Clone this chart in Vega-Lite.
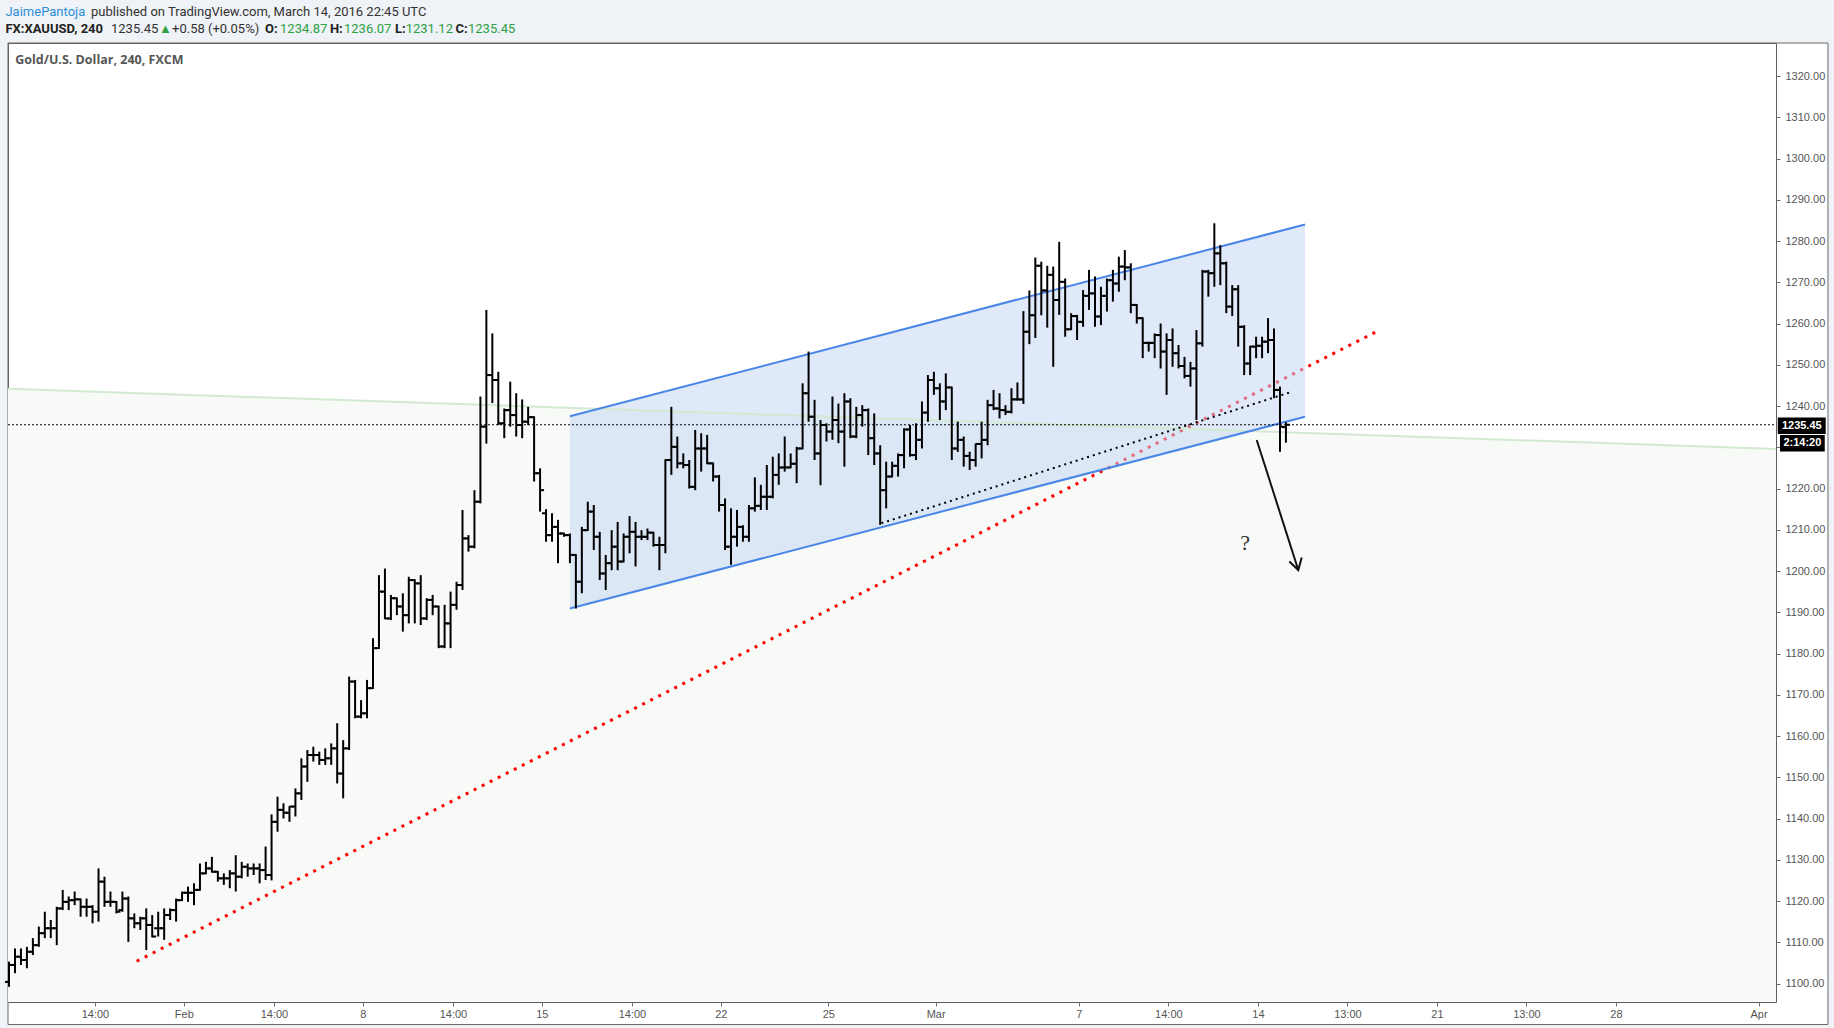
{
"$schema": "https://vega.github.io/schema/vega-lite/v6.json",
"width": 1768, "height": 959,
"autosize": {"type": "none"},
"padding": {"left": 8, "top": 43, "right": 58, "bottom": 26},
"background": "#ffffff",
"config": {"view": {"stroke": "#5e5e5e", "strokeWidth": 1, "fill": "#ffffff"}},
"datasets": {
"page": [{"i": -3, "i2": 308, "p": 1328.0, "p2": 1345}, {"i": -3, "i2": -0.17, "p": 1080, "p2": 1345}, {"i": 304.84, "i2": 308, "p": 1080, "p2": 1345}, {"i": -3, "i2": 308, "p": 1080, "p2": 1090.06}],
"panel": [{"i": -0.17, "i2": 304.84, "p": 1090.06, "p2": 1328.0}],
"green": [{"i": -0.17, "p": 1244.2}, {"i": 296.13, "p": 1229.6}],
"red": [{"i": 21.4, "p": 1105.4}, {"i": 229.0, "p": 1257.9}],
"channel": [{"i": 94.0, "p": 1190.9, "p2": 1237.5}, {"i": 217.2, "p": 1237.4, "p2": 1284.0}],
"chup": [{"i": 94.0, "p": 1237.5}, {"i": 217.2, "p": 1284.0}],
"black": [{"i": 146.2, "p": 1211.6}, {"i": 215.1, "p": 1243.5}],
"last": [{"i": -0.17, "p": 1235.45}, {"i": 296.13, "p": 1235.45}],
"shaft": [{"i": 209.1, "p": 1231.76}, {"i": 216.07, "p": 1200.24}],
"head": [{"i": 214.57, "p": 1202.3}, {"i": 216.07, "p": 1200.24}, {"i": 216.64, "p": 1203.3}],
"qmark": [{"i": 207.14, "p": 1206.7, "t": "?"}],
"title": [{"i": 1.04, "p": 1324.0, "t": "Gold/U.S. Dollar, 240, FXCM"}],
"hblue": [{"i": -0.6, "p": 1335.6, "t": "JaimePantoja"}],
"hdark": [{"i": 13.74, "p": 1335.6, "t": "published on TradingView.com, March 14, 2016 22:45 UTC"}, {"i": 17.09, "p": 1331.3, "t": "1235.45"}, {"i": 27.32, "p": 1331.3, "t": "+0.58 (+0.05%)"}],
"hbold": [{"i": -0.6, "p": 1331.3, "t": "FX:XAUUSD, 240"}, {"i": 42.9, "p": 1331.3, "t": "O:"}, {"i": 53.78, "p": 1331.3, "t": "H:"}, {"i": 64.69, "p": 1331.3, "t": "L:"}, {"i": 74.81, "p": 1331.3, "t": "C:"}],
"hgreen": [{"i": 25.14, "p": 1331.3, "t": "▲"}, {"i": 45.42, "p": 1331.3, "t": "1234.87"}, {"i": 56.14, "p": 1331.3, "t": "1236.07"}, {"i": 66.48, "p": 1331.3, "t": "1231.12"}, {"i": 76.92, "p": 1331.3, "t": "1235.45"}],
"boxes": [{"i": 296.43, "i2": 304.46, "p": 1233.2, "p2": 1237.2}, {"i": 296.8, "i2": 304.3, "p": 1228.97, "p2": 1232.95}],
"boxtext": [{"i": 300.45, "p": 1235.2, "t": "1235.45"}, {"i": 300.55, "p": 1230.96, "t": "2:14:20"}],
"bars": [
{"i":0,"o":1100.4,"h":1105.3,"l":1099.2,"c":1104.5},
{"i":1,"o":1104.5,"h":1108.5,"l":1102.5,"c":1106.5},
{"i":2,"o":1106.5,"h":1108.5,"l":1104.5,"c":1105.7},
{"i":3,"o":1105.7,"h":1108.9,"l":1103.7,"c":1107.7},
{"i":4,"o":1107.7,"h":1111.0,"l":1106.9,"c":1109.3},
{"i":5,"o":1109.3,"h":1113.8,"l":1108.9,"c":1112.2},
{"i":6,"o":1112.2,"h":1117.4,"l":1111.0,"c":1113.4},
{"i":7,"o":1113.4,"h":1115.4,"l":1111.0,"c":1113.4},
{"i":8,"o":1113.4,"h":1118.6,"l":1109.3,"c":1118.2},
{"i":9,"o":1118.2,"h":1122.7,"l":1117.8,"c":1119.8},
{"i":10,"o":1119.8,"h":1121.1,"l":1117.8,"c":1120.2},
{"i":11,"o":1120.2,"h":1122.3,"l":1119.0,"c":1120.4},
{"i":12,"o":1120.4,"h":1120.6,"l":1116.2,"c":1118.6},
{"i":13,"o":1118.6,"h":1120.6,"l":1116.2,"c":1118.6},
{"i":14,"o":1118.6,"h":1119.0,"l":1114.6,"c":1117.4},
{"i":15,"o":1117.4,"h":1127.9,"l":1115.0,"c":1124.7},
{"i":16,"o":1124.7,"h":1125.9,"l":1118.6,"c":1119.8},
{"i":17,"o":1119.8,"h":1122.3,"l":1118.6,"c":1119.8},
{"i":18,"o":1119.8,"h":1120.0,"l":1117.0,"c":1117.4},
{"i":19,"o":1117.8,"h":1122.3,"l":1117.4,"c":1120.6},
{"i":20,"o":1120.6,"h":1121.1,"l":1110.1,"c":1115.8},
{"i":21,"o":1115.8,"h":1117.0,"l":1113.4,"c":1114.6},
{"i":22,"o":1114.6,"h":1116.2,"l":1113.0,"c":1115.8},
{"i":23,"o":1115.8,"h":1118.2,"l":1108.1,"c":1114.2},
{"i":24,"o":1114.2,"h":1116.6,"l":1111.2,"c":1111.4},
{"i":25,"o":1113.4,"h":1117.4,"l":1111.4,"c":1113.4},
{"i":26,"o":1113.4,"h":1118.2,"l":1110.6,"c":1116.6},
{"i":27,"o":1116.6,"h":1118.2,"l":1115.4,"c":1117.8},
{"i":28,"o":1117.8,"h":1120.6,"l":1115.0,"c":1120.2},
{"i":29,"o":1120.2,"h":1122.3,"l":1120.0,"c":1122.0},
{"i":30,"o":1122.0,"h":1123.5,"l":1119.8,"c":1122.0},
{"i":31,"o":1122.0,"h":1124.3,"l":1119.0,"c":1122.7},
{"i":32,"o":1122.7,"h":1129.1,"l":1122.5,"c":1126.7},
{"i":33,"o":1126.7,"h":1129.5,"l":1126.5,"c":1127.9},
{"i":34,"o":1127.9,"h":1130.7,"l":1126.9,"c":1127.1},
{"i":35,"o":1127.1,"h":1127.3,"l":1124.7,"c":1125.5},
{"i":36,"o":1125.5,"h":1126.7,"l":1123.9,"c":1125.5},
{"i":37,"o":1125.5,"h":1127.5,"l":1123.1,"c":1126.7},
{"i":38,"o":1126.7,"h":1131.1,"l":1122.3,"c":1125.9},
{"i":39,"o":1125.9,"h":1129.5,"l":1125.5,"c":1128.3},
{"i":40,"o":1128.3,"h":1129.1,"l":1125.9,"c":1127.9},
{"i":41,"o":1127.9,"h":1129.1,"l":1126.3,"c":1127.9},
{"i":42,"o":1127.9,"h":1129.1,"l":1124.3,"c":1127.5},
{"i":43,"o":1127.5,"h":1133.2,"l":1125.1,"c":1126.3},
{"i":44,"o":1126.3,"h":1141.0,"l":1125.0,"c":1139.2},
{"i":45,"o":1139.2,"h":1145.3,"l":1136.8,"c":1142.1},
{"i":46,"o":1142.1,"h":1143.7,"l":1140.0,"c":1141.4},
{"i":47,"o":1141.4,"h":1143.0,"l":1139.2,"c":1142.9},
{"i":48,"o":1142.9,"h":1147.3,"l":1140.5,"c":1146.1},
{"i":49,"o":1146.1,"h":1154.6,"l":1144.5,"c":1152.6},
{"i":50,"o":1152.6,"h":1156.6,"l":1148.9,"c":1155.4},
{"i":51,"o":1155.4,"h":1157.4,"l":1153.8,"c":1155.4},
{"i":52,"o":1155.4,"h":1156.2,"l":1153.0,"c":1154.2},
{"i":53,"o":1154.2,"h":1157.0,"l":1153.0,"c":1154.6},
{"i":54,"o":1154.6,"h":1158.2,"l":1153.0,"c":1157.0},
{"i":55,"o":1157.0,"h":1163.1,"l":1148.5,"c":1150.9},
{"i":56,"o":1150.9,"h":1159.0,"l":1144.9,"c":1157.0},
{"i":57,"o":1157.0,"h":1174.4,"l":1156.6,"c":1173.2},
{"i":58,"o":1173.2,"h":1173.6,"l":1164.3,"c":1164.7},
{"i":59,"o":1164.7,"h":1168.7,"l":1164.3,"c":1165.5},
{"i":60,"o":1165.5,"h":1173.6,"l":1164.3,"c":1171.6},
{"i":61,"o":1171.6,"h":1183.7,"l":1171.4,"c":1181.3},
{"i":62,"o":1181.3,"h":1199.0,"l":1181.1,"c":1195.0},
{"i":63,"o":1195.0,"h":1200.6,"l":1188.3,"c":1188.5},
{"i":64,"o":1188.5,"h":1194.2,"l":1188.1,"c":1193.4},
{"i":65,"o":1193.4,"h":1193.6,"l":1189.3,"c":1191.4},
{"i":66,"o":1191.4,"h":1194.6,"l":1185.3,"c":1189.3},
{"i":67,"o":1189.3,"h":1198.6,"l":1187.3,"c":1197.8},
{"i":68,"o":1197.8,"h":1198.0,"l":1187.3,"c":1197.0},
{"i":69,"o":1197.0,"h":1199.0,"l":1186.9,"c":1188.5},
{"i":70,"o":1188.5,"h":1193.4,"l":1188.1,"c":1193.0},
{"i":71,"o":1193.0,"h":1194.2,"l":1189.3,"c":1191.4},
{"i":72,"o":1191.4,"h":1191.6,"l":1181.3,"c":1181.7},
{"i":73,"o":1181.7,"h":1191.8,"l":1181.3,"c":1187.3},
{"i":74,"o":1187.3,"h":1195.0,"l":1181.3,"c":1191.8},
{"i":75,"o":1191.8,"h":1197.4,"l":1190.6,"c":1196.6},
{"i":76,"o":1196.6,"h":1214.8,"l":1195.4,"c":1207.9},
{"i":77,"o":1207.9,"h":1208.7,"l":1204.7,"c":1205.9},
{"i":78,"o":1205.9,"h":1219.6,"l":1205.5,"c":1216.8},
{"i":79,"o":1216.8,"h":1242.3,"l":1216.4,"c":1235.0},
{"i":80,"o":1235.0,"h":1263.3,"l":1230.9,"c":1247.5},
{"i":81,"o":1247.5,"h":1257.6,"l":1240.7,"c":1246.3},
{"i":82,"o":1246.3,"h":1248.3,"l":1235.4,"c":1235.8},
{"i":83,"o":1235.8,"h":1239.4,"l":1232.2,"c":1239.0},
{"i":84,"o":1239.0,"h":1245.9,"l":1235.0,"c":1237.8},
{"i":85,"o":1237.8,"h":1243.1,"l":1232.6,"c":1235.4},
{"i":86,"o":1235.4,"h":1241.6,"l":1232.2,"c":1236.2},
{"i":87,"o":1236.2,"h":1239.8,"l":1235.4,"c":1237.3},
{"i":88,"o":1237.3,"h":1237.5,"l":1221.7,"c":1223.7},
{"i":89,"o":1223.7,"h":1224.9,"l":1214.4,"c":1219.6},
{"i":90,"o":1214.0,"h":1215.0,"l":1207.1,"c":1208.7},
{"i":91,"o":1208.7,"h":1214.0,"l":1207.1,"c":1210.7},
{"i":92,"o":1210.7,"h":1212.4,"l":1201.9,"c":1209.1},
{"i":93,"o":1209.1,"h":1209.3,"l":1208.3,"c":1208.7},
{"i":94,"o":1208.7,"h":1209.1,"l":1201.9,"c":1203.9},
{"i":95,"o":1203.9,"h":1204.1,"l":1190.9,"c":1197.4},
{"i":96,"o":1197.4,"h":1210.7,"l":1194.6,"c":1209.9},
{"i":97,"o":1209.9,"h":1216.8,"l":1209.7,"c":1214.4},
{"i":98,"o":1214.4,"h":1216.0,"l":1205.1,"c":1208.3},
{"i":99,"o":1208.3,"h":1209.5,"l":1197.8,"c":1199.4},
{"i":100,"o":1199.4,"h":1203.9,"l":1195.4,"c":1201.9},
{"i":101,"o":1201.9,"h":1209.9,"l":1200.2,"c":1205.9},
{"i":102,"o":1205.9,"h":1211.9,"l":1200.2,"c":1202.3},
{"i":103,"o":1202.3,"h":1209.1,"l":1202.1,"c":1208.3},
{"i":104,"o":1208.3,"h":1213.3,"l":1204.3,"c":1209.5},
{"i":105,"o":1209.5,"h":1211.9,"l":1201.1,"c":1208.3},
{"i":106,"o":1208.3,"h":1209.9,"l":1207.5,"c":1208.3},
{"i":107,"o":1208.3,"h":1210.3,"l":1207.5,"c":1209.3},
{"i":108,"o":1209.3,"h":1209.5,"l":1205.9,"c":1206.3},
{"i":109,"o":1206.3,"h":1208.3,"l":1200.2,"c":1206.3},
{"i":110,"o":1206.3,"h":1227.1,"l":1204.3,"c":1226.9},
{"i":111,"o":1226.9,"h":1239.8,"l":1223.3,"c":1230.1},
{"i":112,"o":1230.1,"h":1232.6,"l":1224.9,"c":1226.1},
{"i":113,"o":1226.1,"h":1228.5,"l":1224.9,"c":1225.7},
{"i":114,"o":1225.7,"h":1226.9,"l":1220.0,"c":1220.4},
{"i":115,"o":1220.4,"h":1234.2,"l":1219.6,"c":1229.7},
{"i":116,"o":1229.7,"h":1233.4,"l":1224.1,"c":1229.7},
{"i":117,"o":1229.7,"h":1233.0,"l":1225.9,"c":1226.1},
{"i":118,"o":1226.1,"h":1226.3,"l":1221.7,"c":1222.9},
{"i":119,"o":1222.9,"h":1223.3,"l":1214.4,"c":1216.0},
{"i":120,"o":1216.0,"h":1217.6,"l":1205.1,"c":1205.9},
{"i":121,"o":1205.9,"h":1215.2,"l":1201.5,"c":1208.3},
{"i":122,"o":1208.3,"h":1214.8,"l":1205.9,"c":1210.7},
{"i":123,"o":1210.7,"h":1211.1,"l":1207.1,"c":1208.3},
{"i":124,"o":1208.3,"h":1216.0,"l":1207.1,"c":1215.2},
{"i":125,"o":1215.2,"h":1222.7,"l":1214.4,"c":1215.8},
{"i":126,"o":1215.8,"h":1220.9,"l":1214.8,"c":1218.0},
{"i":127,"o":1218.0,"h":1225.7,"l":1214.8,"c":1218.0},
{"i":128,"o":1218.0,"h":1227.7,"l":1217.6,"c":1223.3},
{"i":129,"o":1223.3,"h":1228.5,"l":1220.9,"c":1225.1},
{"i":130,"o":1225.1,"h":1232.6,"l":1224.1,"c":1225.1},
{"i":131,"o":1225.1,"h":1228.5,"l":1224.9,"c":1226.0},
{"i":132,"o":1226.0,"h":1230.1,"l":1221.3,"c":1229.7},
{"i":133,"o":1229.7,"h":1245.5,"l":1229.5,"c":1243.1},
{"i":134,"o":1243.1,"h":1253.2,"l":1236.2,"c":1237.4},
{"i":135,"o":1237.4,"h":1241.5,"l":1226.9,"c":1228.5},
{"i":136,"o":1228.5,"h":1236.6,"l":1220.8,"c":1235.4},
{"i":137,"o":1235.4,"h":1235.8,"l":1231.4,"c":1233.8},
{"i":138,"o":1233.8,"h":1242.3,"l":1231.8,"c":1236.6},
{"i":139,"o":1236.6,"h":1240.6,"l":1231.0,"c":1233.8},
{"i":140,"o":1233.8,"h":1243.1,"l":1225.3,"c":1241.1},
{"i":141,"o":1241.1,"h":1241.9,"l":1232.2,"c":1232.6},
{"i":142,"o":1232.6,"h":1239.8,"l":1232.2,"c":1237.8},
{"i":143,"o":1237.8,"h":1240.2,"l":1235.0,"c":1239.0},
{"i":144,"o":1239.0,"h":1239.4,"l":1228.1,"c":1232.2},
{"i":145,"o":1232.2,"h":1238.2,"l":1225.7,"c":1228.5},
{"i":146,"o":1228.5,"h":1230.5,"l":1211.2,"c":1219.6},
{"i":147,"o":1219.6,"h":1226.5,"l":1215.2,"c":1222.9},
{"i":148,"o":1222.9,"h":1226.5,"l":1222.7,"c":1225.5},
{"i":149,"o":1225.5,"h":1228.5,"l":1222.9,"c":1228.1},
{"i":150,"o":1228.1,"h":1234.6,"l":1224.9,"c":1234.3},
{"i":151,"o":1234.3,"h":1235.4,"l":1227.7,"c":1228.1},
{"i":152,"o":1228.1,"h":1235.8,"l":1226.9,"c":1231.8},
{"i":153,"o":1231.8,"h":1241.1,"l":1229.7,"c":1238.4},
{"i":154,"o":1238.4,"h":1247.5,"l":1236.2,"c":1246.3},
{"i":155,"o":1246.3,"h":1248.3,"l":1242.7,"c":1244.3},
{"i":156,"o":1244.3,"h":1245.5,"l":1236.6,"c":1241.1},
{"i":157,"o":1241.1,"h":1247.9,"l":1239.0,"c":1244.5},
{"i":158,"o":1244.5,"h":1244.7,"l":1226.9,"c":1229.7},
{"i":159,"o":1229.7,"h":1236.2,"l":1228.9,"c":1231.8},
{"i":160,"o":1231.8,"h":1232.6,"l":1225.3,"c":1227.9},
{"i":161,"o":1227.9,"h":1228.9,"l":1224.5,"c":1226.9},
{"i":162,"o":1226.9,"h":1230.9,"l":1225.3,"c":1230.8},
{"i":163,"o":1230.8,"h":1236.2,"l":1227.3,"c":1231.8},
{"i":164,"o":1231.8,"h":1241.5,"l":1230.5,"c":1240.2},
{"i":165,"o":1240.2,"h":1243.9,"l":1239.0,"c":1239.4},
{"i":166,"o":1239.4,"h":1243.1,"l":1237.0,"c":1239.0},
{"i":167,"o":1239.0,"h":1240.2,"l":1237.8,"c":1238.6},
{"i":168,"o":1238.6,"h":1244.3,"l":1238.2,"c":1241.6},
{"i":169,"o":1241.6,"h":1245.7,"l":1241.3,"c":1241.6},
{"i":170,"o":1241.6,"h":1263.0,"l":1240.5,"c":1258.0},
{"i":171,"o":1258.0,"h":1268.0,"l":1255.0,"c":1262.0},
{"i":172,"o":1262.0,"h":1276.0,"l":1256.5,"c":1274.0},
{"i":173,"o":1274.0,"h":1275.0,"l":1262.0,"c":1268.0},
{"i":174,"o":1268.0,"h":1274.0,"l":1259.0,"c":1271.8},
{"i":175,"o":1271.8,"h":1273.8,"l":1249.5,"c":1265.7},
{"i":176,"o":1265.7,"h":1279.8,"l":1262.1,"c":1270.1},
{"i":177,"o":1270.1,"h":1270.9,"l":1256.8,"c":1258.6},
{"i":178,"o":1258.6,"h":1262.5,"l":1258.4,"c":1261.8},
{"i":179,"o":1261.8,"h":1262.1,"l":1256.0,"c":1260.4},
{"i":180,"o":1260.4,"h":1268.1,"l":1259.2,"c":1266.7},
{"i":181,"o":1266.7,"h":1273.0,"l":1263.3,"c":1267.3},
{"i":182,"o":1267.3,"h":1271.4,"l":1259.2,"c":1261.7},
{"i":183,"o":1261.7,"h":1268.9,"l":1259.6,"c":1266.7},
{"i":184,"o":1266.7,"h":1270.9,"l":1262.9,"c":1270.5},
{"i":185,"o":1270.5,"h":1273.0,"l":1265.3,"c":1269.7},
{"i":186,"o":1269.7,"h":1276.2,"l":1267.7,"c":1273.8},
{"i":187,"o":1273.8,"h":1277.8,"l":1270.5,"c":1273.6},
{"i":188,"o":1273.6,"h":1274.6,"l":1262.5,"c":1264.5},
{"i":189,"o":1264.5,"h":1264.7,"l":1260.0,"c":1261.3},
{"i":190,"o":1261.3,"h":1261.5,"l":1251.6,"c":1255.3},
{"i":191,"o":1255.3,"h":1255.6,"l":1253.2,"c":1255.3},
{"i":192,"o":1255.3,"h":1257.6,"l":1251.6,"c":1257.2},
{"i":193,"o":1257.2,"h":1260.0,"l":1249.1,"c":1253.2},
{"i":194,"o":1253.2,"h":1257.6,"l":1242.7,"c":1256.0},
{"i":195,"o":1256.0,"h":1258.8,"l":1249.5,"c":1252.8},
{"i":196,"o":1252.8,"h":1254.8,"l":1249.1,"c":1249.7},
{"i":197,"o":1249.7,"h":1251.9,"l":1246.7,"c":1247.3},
{"i":198,"o":1247.3,"h":1250.7,"l":1244.7,"c":1249.1},
{"i":199,"o":1249.1,"h":1258.4,"l":1236.6,"c":1255.2},
{"i":200,"o":1255.2,"h":1273.0,"l":1254.4,"c":1272.6},
{"i":201,"o":1272.6,"h":1273.0,"l":1266.5,"c":1272.2},
{"i":202,"o":1272.2,"h":1284.3,"l":1268.9,"c":1277.0},
{"i":203,"o":1277.0,"h":1279.0,"l":1269.3,"c":1274.6},
{"i":204,"o":1274.6,"h":1275.0,"l":1262.5,"c":1264.1},
{"i":205,"o":1264.1,"h":1269.3,"l":1261.8,"c":1268.3},
{"i":206,"o":1268.3,"h":1269.3,"l":1254.4,"c":1259.2},
{"i":207,"o":1259.2,"h":1259.6,"l":1247.5,"c":1250.3},
{"i":208,"o":1250.3,"h":1254.6,"l":1247.5,"c":1254.4},
{"i":209,"o":1254.4,"h":1256.8,"l":1251.6,"c":1254.6},
{"i":210,"o":1254.6,"h":1256.8,"l":1251.6,"c":1255.6},
{"i":211,"o":1255.6,"h":1261.3,"l":1252.8,"c":1256.0},
{"i":212,"o":1256.0,"h":1258.8,"l":1241.9,"c":1243.9},
{"i":213,"o":1243.9,"h":1244.7,"l":1228.9,"c":1235.0},
{"i":214,"o":1234.87,"h":1236.07,"l":1231.12,"c":1235.45}
]
},
"encoding": {
 "x": {"field": "i", "type": "quantitative", "scale": {"domain": [-0.17, 296.13], "nice": false, "zero": false},
  "axis": {"values": [14.4, 29.3, 44.4, 59.3, 74.4, 89.3, 104.4, 119.3, 137.3, 155.3, 179.3, 194.3, 209.3, 224.3, 239.3, 254.3, 269.3, 293.2],
   "labelExpr": "['14:00','Feb','14:00','8','14:00','15','14:00','22','25','Mar','7','14:00','14','13:00','21','13:00','28','Apr'][indexof([14.4,29.3,44.4,59.3,74.4,89.3,104.4,119.3,137.3,155.3,179.3,194.3,209.3,224.3,239.3,254.3,269.3,293.2], datum.value)]",
   "title": null, "grid": false, "domain": false, "ticks": true, "tickSize": 4, "tickColor": "#6b6b6b", "labelFont": "Liberation Sans", "labelFontSize": 11, "labelColor": "#555555", "labelPadding": 2, "labelOverlap": false, "labelFlush": false}},
 "y": {"field": "p", "type": "quantitative", "scale": {"domain": [1095.52, 1328.0], "nice": false, "zero": false},
  "axis": {"orient": "right", "values": [1100, 1110, 1120, 1130, 1140, 1150, 1160, 1170, 1180, 1190, 1200, 1210, 1220, 1230, 1240, 1250, 1260, 1270, 1280, 1290, 1300, 1310, 1320], "labelExpr": "datum.value == 1230 ? '' : format(datum.value, '.2f')",
   "title": null, "grid": false, "domain": false, "ticks": true, "tickSize": 4, "tickColor": "#6b6b6b", "labelFont": "Liberation Sans", "labelFontSize": 11, "labelColor": "#555555", "labelPadding": 5, "labelOverlap": false, "labelFlush": false}}
},
"layer": [
{"data": {"name": "page"}, "mark": {"type": "rect", "fill": "#eff2f6", "stroke": null},
 "encoding": {"x2": {"field": "i2"}, "y2": {"field": "p2"}}},
{"data": {"name": "panel"}, "mark": {"type": "rect", "fill": null, "fillOpacity": 0, "stroke": "#6b6b6b", "strokeWidth": 1},
 "encoding": {"x2": {"field": "i2"}, "y2": {"field": "p2"}}},
{"data": {"name": "green"}, "mark": {"type": "area", "fill": "#f7faf6"},
 "encoding": {"y2": {"datum": 1095.52}}},
{"data": {"name": "red"}, "mark": {"type": "line", "stroke": "#ff0000", "strokeWidth": 3, "strokeDash": [3, 6]}, "encoding": {}},
{"data": {"name": "channel"}, "mark": {"type": "area", "fill": "#c1d3f3", "fillOpacity": 0.5},
 "encoding": {"y2": {"field": "p2"}}},
{"data": {"name": "green"}, "mark": {"type": "line", "stroke": "#d3e9d1", "strokeWidth": 2}, "encoding": {}},
{"data": {"name": "channel"}, "mark": {"type": "line", "stroke": "#4a86e8", "strokeWidth": 2}, "encoding": {}},
{"data": {"name": "chup"}, "mark": {"type": "line", "stroke": "#4a86e8", "strokeWidth": 2}, "encoding": {}},
{"data": {"name": "black"}, "mark": {"type": "line", "stroke": "#000000", "strokeWidth": 2, "strokeDash": [2, 4]}, "encoding": {}},
{"data": {"name": "last"}, "mark": {"type": "line", "stroke": "#000000", "strokeWidth": 1, "strokeDash": [2, 2]}, "encoding": {}},
{"data": {"name": "bars"}, "mark": {"type": "rule", "stroke": "#000000", "strokeWidth": 2},
 "encoding": {
  "y": {"field": "l", "type": "quantitative", "scale": {"domain": [1095.52, 1328.0], "nice": false, "zero": false},
   "axis": {"orient": "right", "values": [1100, 1110, 1120, 1130, 1140, 1150, 1160, 1170, 1180, 1190, 1200, 1210, 1220, 1230, 1240, 1250, 1260, 1270, 1280, 1290, 1300, 1310, 1320], "labelExpr": "datum.value == 1230 ? '' : format(datum.value, '.2f')",
    "title": null, "grid": false, "domain": false, "ticks": true, "tickSize": 4, "tickColor": "#6b6b6b", "labelFont": "Liberation Sans", "labelFontSize": 11, "labelColor": "#555555", "labelPadding": 5, "labelOverlap": false, "labelFlush": false}},
  "y2": {"field": "h"}}},
{"data": {"name": "bars"}, "mark": {"type": "tick", "orient": "horizontal", "color": "#000000", "size": 4, "thickness": 2, "xOffset": -2, "opacity": 1},
 "encoding": {
  "y": {"field": "o", "type": "quantitative", "scale": {"domain": [1095.52, 1328.0], "nice": false, "zero": false},
   "axis": {"orient": "right", "values": [1100, 1110, 1120, 1130, 1140, 1150, 1160, 1170, 1180, 1190, 1200, 1210, 1220, 1230, 1240, 1250, 1260, 1270, 1280, 1290, 1300, 1310, 1320], "labelExpr": "datum.value == 1230 ? '' : format(datum.value, '.2f')",
    "title": null, "grid": false, "domain": false, "ticks": true, "tickSize": 4, "tickColor": "#6b6b6b", "labelFont": "Liberation Sans", "labelFontSize": 11, "labelColor": "#555555", "labelPadding": 5, "labelOverlap": false, "labelFlush": false}}}},
{"data": {"name": "bars"}, "mark": {"type": "tick", "orient": "horizontal", "color": "#000000", "size": 4, "thickness": 2, "xOffset": 2, "opacity": 1},
 "encoding": {
  "y": {"field": "c", "type": "quantitative", "scale": {"domain": [1095.52, 1328.0], "nice": false, "zero": false},
   "axis": {"orient": "right", "values": [1100, 1110, 1120, 1130, 1140, 1150, 1160, 1170, 1180, 1190, 1200, 1210, 1220, 1230, 1240, 1250, 1260, 1270, 1280, 1290, 1300, 1310, 1320], "labelExpr": "datum.value == 1230 ? '' : format(datum.value, '.2f')",
    "title": null, "grid": false, "domain": false, "ticks": true, "tickSize": 4, "tickColor": "#6b6b6b", "labelFont": "Liberation Sans", "labelFontSize": 11, "labelColor": "#555555", "labelPadding": 5, "labelOverlap": false, "labelFlush": false}}}},
{"data": {"name": "shaft"}, "mark": {"type": "line", "stroke": "#111111", "strokeWidth": 2}, "encoding": {}},
{"data": {"name": "head"}, "mark": {"type": "line", "stroke": "#111111", "strokeWidth": 2}, "encoding": {}},
{"data": {"name": "qmark"}, "mark": {"type": "text", "font": "Liberation Serif", "fontSize": 22, "color": "#333333", "align": "center", "baseline": "middle"},
 "encoding": {"text": {"field": "t"}}},
{"data": {"name": "title"}, "mark": {"type": "text", "font": "Open Sans", "fontSize": 12.5, "fontWeight": "bold", "color": "#555555", "align": "left", "baseline": "middle"},
 "encoding": {"text": {"field": "t"}}},
{"data": {"name": "hblue"}, "mark": {"type": "text", "font": "Roboto", "fontSize": 13, "color": "#2b8fd8", "align": "left", "baseline": "middle"},
 "encoding": {"text": {"field": "t"}}},
{"data": {"name": "hdark"}, "mark": {"type": "text", "font": "Roboto", "fontSize": 13, "color": "#333333", "align": "left", "baseline": "middle"},
 "encoding": {"text": {"field": "t"}}},
{"data": {"name": "hbold"}, "mark": {"type": "text", "font": "Roboto", "fontSize": 13, "fontWeight": "bold", "color": "#222222", "align": "left", "baseline": "middle"},
 "encoding": {"text": {"field": "t"}}},
{"data": {"name": "hgreen"}, "mark": {"type": "text", "font": "Roboto", "fontSize": 13, "color": "#2ea043", "align": "left", "baseline": "middle"},
 "encoding": {"text": {"field": "t"}}},
{"data": {"name": "boxes"}, "mark": {"type": "rect", "fill": "#000000"},
 "encoding": {"x2": {"field": "i2"}, "y2": {"field": "p2"}}},
{"data": {"name": "boxtext"}, "mark": {"type": "text", "font": "Liberation Sans", "fontSize": 11, "fontWeight": "bold", "color": "#ffffff", "align": "center", "baseline": "middle"},
 "encoding": {"text": {"field": "t"}}}
]
}
